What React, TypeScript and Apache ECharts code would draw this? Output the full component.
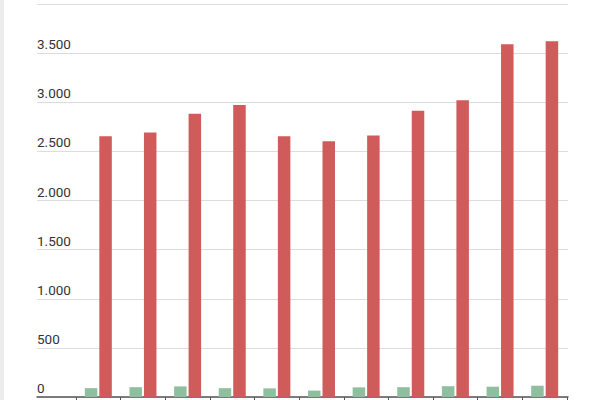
import React, { useEffect, useRef } from "react";
import * as echarts from "echarts";

const categories = ["1", "2", "3", "4", "5", "6", "7", "8", "9", "10", "11"];
const greenValues = [90, 100, 108, 90, 88, 65, 98, 100, 110, 105, 115];
const redValues = [2655, 2693, 2882, 2971, 2655, 2604, 2662, 2913, 3021, 3591, 3622];
const yTicks = { min: 0, max: 4000, interval: 500 };

function fmt(v: number): string {
  return String(v).replace(/\B(?=(\d{3})+(?!\d))/g, ".");
}

export default function App() {
  const ref = useRef<HTMLDivElement>(null);
  useEffect(() => {
    if (!ref.current) return;
    const chart = echarts.init(ref.current, undefined, { renderer: "svg" });
    chart.setOption({
      animation: false,
      backgroundColor: "#ffffff",
      graphic: [
        {
          type: "rect",
          left: 0,
          top: 0,
          shape: { x: 0, y: 0, width: 4, height: 400 },
          style: { fill: "#ececec" },
          silent: true,
        },
      ],
      grid: [
        { left: 37, right: 32, top: 4, bottom: 3, outerBoundsMode: "none", containLabel: false },
        { left: 76, right: 33, top: 4, bottom: 3, outerBoundsMode: "none", containLabel: false },
      ],
      xAxis: [
        {
          gridIndex: 0,
          type: "value",
          min: 0,
          max: 1,
          axisLine: { show: true, lineStyle: { color: "#555555", width: 1.5 } },
          axisTick: { show: false },
          axisLabel: { show: false },
          splitLine: { show: false },
        },
        {
          gridIndex: 1,
          type: "category",
          data: categories,
          axisLine: { show: false },
          axisTick: { show: true, length: 5, lineStyle: { color: "#555555", width: 1 } },
          axisLabel: { show: false },
          splitLine: { show: false },
        },
      ],
      yAxis: [
        {
          gridIndex: 0,
          type: "value",
          min: yTicks.min,
          max: yTicks.max,
          interval: yTicks.interval,
          axisLine: { show: false },
          axisTick: { show: false },
          splitLine: { show: true, lineStyle: { color: "#dddddd", width: 1 } },
          axisLabel: {
            inside: true,
            margin: 0,
            verticalAlign: "bottom",
            padding: [0, 0, 2, 0],
            color: "#333333",
            fontSize: 13.5,
            fontFamily: "Roboto",
            formatter: (v: number) => fmt(v),
          },
        },
        {
          gridIndex: 1,
          type: "value",
          min: yTicks.min,
          max: yTicks.max,
          show: false,
          splitLine: { show: false },
        },
      ],
      series: [
        {
          type: "bar",
          xAxisIndex: 1,
          yAxisIndex: 1,
          data: greenValues,
          barWidth: 12.5,
          barGap: "16%",
          itemStyle: { color: "#8fbf9f" },
        },
        {
          type: "bar",
          xAxisIndex: 1,
          yAxisIndex: 1,
          data: redValues,
          barWidth: 12.5,
          barGap: "16%",
          itemStyle: { color: "#cf5c5a" },
        },
      ],
    });
    return () => chart.dispose();
  }, []);
  return (
    <div
      ref={ref}
      style={{ position: "fixed", left: 0, top: 0, width: 600, height: 400 }}
    />
  );
}
